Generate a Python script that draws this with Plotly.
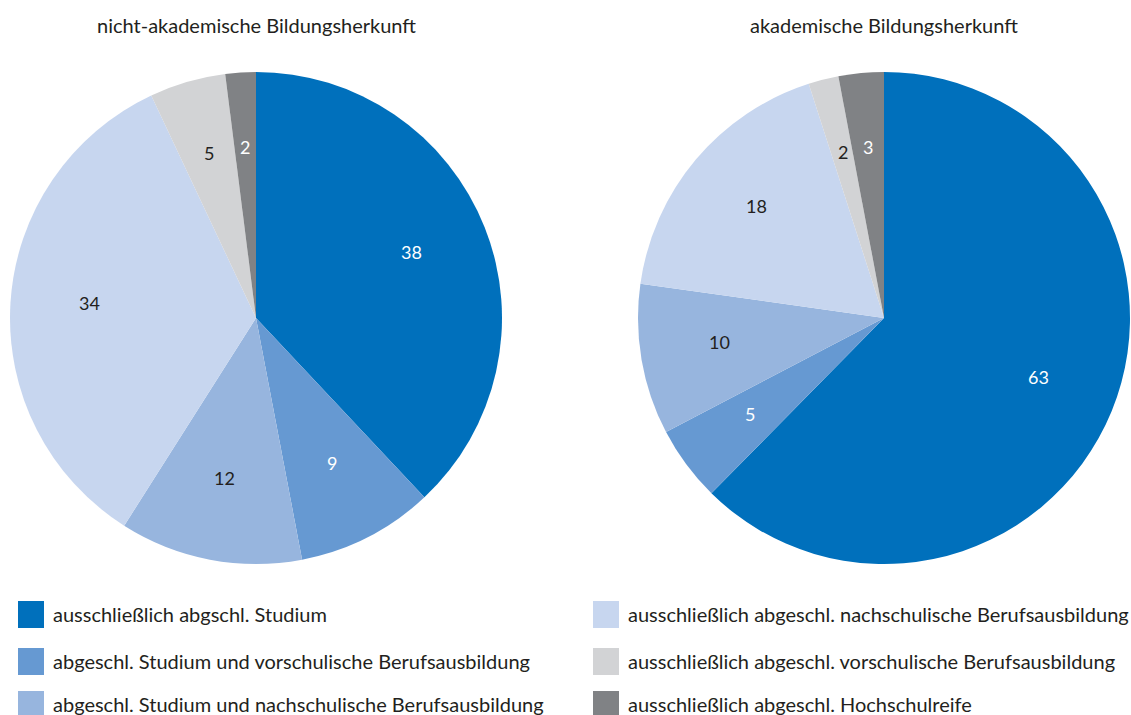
import math
import plotly.graph_objects as go

categories = [
    "ausschließlich abgschl. Studium",
    "abgeschl. Studium und vorschulische Berufsausbildung",
    "abgeschl. Studium und nachschulische Berufsausbildung",
    "ausschließlich abgeschl. nachschulische Berufsausbildung",
    "ausschließlich abgeschl. vorschulische Berufsausbildung",
    "ausschließlich abgeschl. Hochschulreife",
]
nicht_akademisch = [38, 9, 12, 34, 5, 2]
akademisch = [63, 5, 10, 18, 2, 3]
titles = ["nicht-akademische Bildungsherkunft", "akademische Bildungsherkunft"]

colors = ["#0070bc", "#6699d2", "#97b5de", "#c7d6ef", "#d2d3d5", "#808285"]
text_colors = ["white", "white", "#231f20", "#231f20", "#231f20", "white"]
FONT = "Lato"
DARK = "#231f20"
W, H = 1131, 715


def px_x(v):
    return v / W


def px_y(v):
    return 1 - v / H


fig = go.Figure()

# pie boxes in screen pixels (left, right), same top/bottom
domains = [(10, 502), (638, 1130)]
top, bottom = 72, 564
radius = (bottom - top) / 2
for vals, (x0, x1) in zip([nicht_akademisch, akademisch], domains):
    fig.add_trace(go.Pie(
        labels=categories, values=vals, sort=False, direction="clockwise", rotation=0,
        marker=dict(colors=colors, line=dict(width=0)),
        textinfo="none",
        domain=dict(x=[px_x(x0), px_x(x1)], y=[px_y(bottom), px_y(top)]),
        showlegend=False, hoverinfo="label+value",
    ))

    # value labels along each slice's bisector (small upward nudge for the text box)
    cx, cy = (x0 + x1) / 2, (top + bottom) / 2
    total = sum(vals)
    cum = 0
    for v, tc in zip(vals, text_colors):
        mid = (cum + v / 2) / total * 2 * math.pi
        cum += v
        lx = cx + 0.68 * radius * math.sin(mid)
        ly = cy - 0.68 * radius * math.cos(mid) - 4
        fig.add_annotation(text=str(v), x=px_x(lx), y=px_y(ly), xref="paper", yref="paper",
                           showarrow=False, xanchor="center", yanchor="middle",
                           font=dict(family=FONT, size=18, color=tc))

# titles
for t, (x0, x1) in zip(titles, domains):
    fig.add_annotation(text=t, x=px_x((x0 + x1) / 2), y=px_y(25), xref="paper", yref="paper",
                       showarrow=False, font=dict(family=FONT, size=20, color=DARK),
                       xanchor="center", yanchor="middle")

# legend drawn in two columns
rows_y = [614, 661, 704]
cols_x = [18, 593]
for i, (cat, col) in enumerate(zip(categories, colors)):
    lx = cols_x[i // 3]
    ly = rows_y[i % 3]
    fig.add_shape(type="rect", xref="paper", yref="paper",
                  x0=px_x(lx), x1=px_x(lx + 26), y0=px_y(ly - 13), y1=px_y(ly + 14),
                  fillcolor=col, line=dict(width=0))
    fig.add_annotation(text=cat, x=px_x(lx + 33), y=px_y(ly), xref="paper", yref="paper",
                       showarrow=False, xanchor="left", yanchor="middle",
                       font=dict(family=FONT, size=20, color=DARK))

fig.update_layout(
    width=W, height=H, margin=dict(l=0, r=0, t=0, b=0),
    paper_bgcolor="white", plot_bgcolor="white",
    font=dict(family=FONT, color=DARK),
)
# drop the browser's default page margin so the figure fills the window
fig.write_html("out.html", config={"displayModeBar": False},
               post_script="document.body.style.margin='0';")
